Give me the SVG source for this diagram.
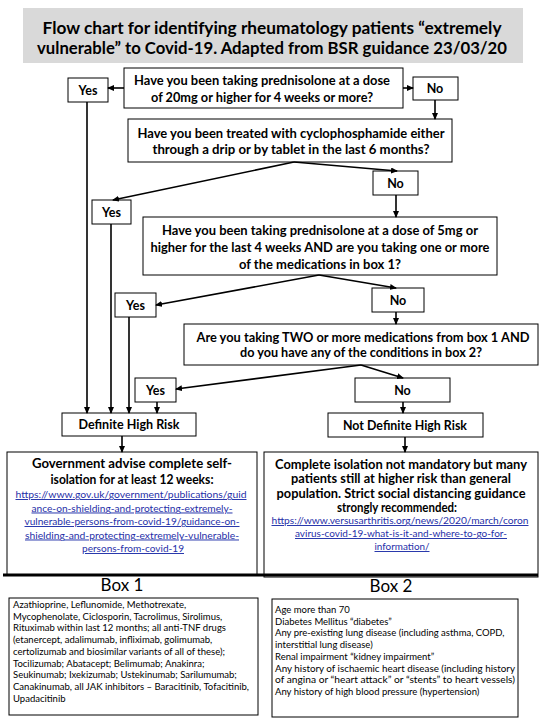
<svg xmlns="http://www.w3.org/2000/svg" width="540" height="720" viewBox="0 0 540 720">
<style>
  .box{fill:#fff;stroke:#000;stroke-width:1}
  .t{font-family:Lato,"Liberation Sans",sans-serif;fill:#000}
  .title{font-size:17px;font-weight:bold;text-anchor:middle}
  .q{font-size:12.5px;font-weight:bold;text-anchor:middle}
  .lab{font-size:12.5px;font-weight:bold;text-anchor:middle}
  .adv{font-size:12.8px;font-weight:bold;text-anchor:middle}
  .lnk{font-size:9.5px;fill:#1f2fa8;text-decoration:underline;text-anchor:middle}
  .lst{font-size:9.5px}
  .hd{font-size:17px;text-anchor:middle}
  .c{stroke:#000;stroke-width:1.6;fill:none;marker-end:url(#ah)}
</style>
<defs>
  <marker id="ah" markerUnits="userSpaceOnUse" markerWidth="7" markerHeight="6" refX="6" refY="3" orient="auto">
    <path d="M0,0 L7,3 L0,6 z" fill="#000"/>
  </marker>
</defs>
<rect width="540" height="720" fill="#fff"/>

<g id="title">
  <rect x="23" y="8" width="500" height="55" fill="#d9d9d9"/>
  <text class="t title" x="272" y="34" textLength="459" lengthAdjust="spacingAndGlyphs">Flow chart for identifying rheumatology patients “extremely</text>
  <text class="t title" x="272" y="54" textLength="470" lengthAdjust="spacingAndGlyphs">vulnerable” to Covid-19. Adapted from BSR guidance 23/03/20</text>
</g>

<g id="q1">
  <rect class="box" x="124" y="68" width="279" height="40"/>
  <text class="t q" x="262" y="85" textLength="256" lengthAdjust="spacingAndGlyphs">Have you been taking prednisolone at a dose</text>
  <text class="t q" x="262" y="102" textLength="222" lengthAdjust="spacingAndGlyphs">of 20mg or higher for 4 weeks or more?</text>
</g>
<g id="yes1">
  <rect class="box" x="68" y="78" width="40" height="24"/>
  <text class="t lab" x="88" y="95">Yes</text>
</g>
<g id="no1">
  <rect class="box" x="413" y="77" width="45" height="23"/>
  <text class="t lab" x="435" y="93">No</text>
</g>

<g id="q2">
  <rect class="box" x="128" y="119" width="324" height="43"/>
  <text class="t q" x="291" y="138" textLength="307" lengthAdjust="spacingAndGlyphs">Have you been treated with cyclophosphamide either</text>
  <text class="t q" x="291" y="154" textLength="277" lengthAdjust="spacingAndGlyphs">through a drip or by tablet in the last 6 months?</text>
</g>
<g id="yes2">
  <rect class="box" x="92" y="200" width="39" height="24"/>
  <text class="t lab" x="111.5" y="217">Yes</text>
</g>
<g id="no2">
  <rect class="box" x="373" y="171" width="45" height="24"/>
  <text class="t lab" x="395.5" y="188">No</text>
</g>

<g id="q3">
  <rect class="box" x="143" y="217" width="354" height="58"/>
  <text class="t q" x="320" y="235" textLength="316" lengthAdjust="spacingAndGlyphs">Have you been taking prednisolone at a dose of 5mg or</text>
  <text class="t q" x="320" y="252" textLength="339" lengthAdjust="spacingAndGlyphs">higher for the last 4 weeks AND are you taking one or more</text>
  <text class="t q" x="320" y="269" textLength="162" lengthAdjust="spacingAndGlyphs">of the medications in box 1?</text>
</g>
<g id="yes3">
  <rect class="box" x="115" y="293" width="41" height="24"/>
  <text class="t lab" x="135.5" y="310">Yes</text>
</g>
<g id="no3">
  <rect class="box" x="372" y="288" width="52" height="24"/>
  <text class="t lab" x="398" y="305">No</text>
</g>

<g id="q4">
  <rect class="box" x="184" y="324" width="354" height="41"/>
  <text class="t q" x="363" y="341.5" textLength="333" lengthAdjust="spacingAndGlyphs">Are you taking TWO or more medications from box 1 AND</text>
  <text class="t q" x="361" y="356.5" textLength="242" lengthAdjust="spacingAndGlyphs">do you have any of the conditions in box 2?</text>
</g>
<g id="yes4">
  <rect class="box" x="135" y="378" width="41" height="24"/>
  <text class="t lab" x="155.5" y="395">Yes</text>
</g>
<g id="no4">
  <rect class="box" x="355" y="378" width="95" height="24"/>
  <text class="t lab" x="402.5" y="395">No</text>
</g>

<g id="dhr">
  <rect class="box" x="62" y="413" width="134" height="23"/>
  <text class="t lab" x="129" y="429" textLength="101" lengthAdjust="spacingAndGlyphs">Definite High Risk</text>
</g>
<g id="ndhr">
  <rect class="box" x="328" y="413" width="155" height="24"/>
  <text class="t lab" x="405" y="430" textLength="124" lengthAdjust="spacingAndGlyphs">Not Definite High Risk</text>
</g>

<g id="gov">
  <rect class="box" x="7" y="452" width="250" height="123"/>
  <text class="t adv" x="132" y="468" textLength="200" lengthAdjust="spacingAndGlyphs">Government advise complete self-</text>
  <text class="t adv" x="132" y="484" textLength="163" lengthAdjust="spacingAndGlyphs">isolation for at least 12 weeks:</text>
  <text class="t lnk" x="131" y="498" textLength="231" lengthAdjust="spacingAndGlyphs">https://www.gov.uk/government/publications/guid</text>
  <text class="t lnk" x="132" y="511.5" textLength="201" lengthAdjust="spacingAndGlyphs">ance-on-shielding-and-protecting-extremely-</text>
  <text class="t lnk" x="132" y="525" textLength="215" lengthAdjust="spacingAndGlyphs">vulnerable-persons-from-covid-19/guidance-on-</text>
  <text class="t lnk" x="132" y="538.5" textLength="214" lengthAdjust="spacingAndGlyphs">shielding-and-protecting-extremely-vulnerable-</text>
  <text class="t lnk" x="133" y="552" textLength="102" lengthAdjust="spacingAndGlyphs">persons-from-covid-19</text>
</g>

<g id="iso">
  <rect class="box" x="264" y="452" width="274" height="125"/>
  <text class="t adv" x="401" y="468.5" textLength="252" lengthAdjust="spacingAndGlyphs">Complete isolation not mandatory but many</text>
  <text class="t adv" x="401" y="483" textLength="220" lengthAdjust="spacingAndGlyphs">patients still at higher risk than general</text>
  <text class="t adv" x="401" y="497.5" textLength="249" lengthAdjust="spacingAndGlyphs">population. Strict social distancing guidance</text>
  <text class="t adv" x="397" y="512" textLength="120" lengthAdjust="spacingAndGlyphs">strongly recommended:</text>
  <text class="t lnk" x="400" y="524" textLength="257" lengthAdjust="spacingAndGlyphs">https://www.versusarthritis.org/news/2020/march/coron</text>
  <text class="t lnk" x="401" y="537" textLength="212" lengthAdjust="spacingAndGlyphs">avirus-covid-19-what-is-it-and-where-to-go-for-</text>
  <text class="t lnk" x="402" y="550" textLength="55" lengthAdjust="spacingAndGlyphs">information/</text>
</g>

<line x1="3" y1="575" x2="538" y2="575" stroke="#000" stroke-width="3"/>

<g id="box1">
  <text class="t hd" x="122" y="591">Box 1</text>
  <rect class="box" x="9" y="598" width="249" height="117"/>
  <text class="t lst" x="13" y="608">Azathioprine, Leflunomide, Methotrexate,</text>
  <text class="t lst" x="13" y="619.7">Mycophenolate, Ciclosporin, Tacrolimus, Sirolimus,</text>
  <text class="t lst" x="13" y="631.4">Rituximab within last 12 months; all anti-TNF drugs</text>
  <text class="t lst" x="13" y="643.1">(etanercept, adalimumab, infliximab, golimumab,</text>
  <text class="t lst" x="13" y="654.8">certolizumab and biosimilar variants of all of these);</text>
  <text class="t lst" x="13" y="666.5">Tocilizumab; Abatacept; Belimumab; Anakinra;</text>
  <text class="t lst" x="13" y="678.2">Seukinumab; Ixekizumab; Ustekinumab; Sarilumumab;</text>
  <text class="t lst" x="13" y="689.9" textLength="236" lengthAdjust="spacingAndGlyphs">Canakinumab, all JAK inhibitors – Baracitinib, Tofacitinib,</text>
  <text class="t lst" x="13" y="701.6">Upadacitinib</text>
</g>

<g id="box2">
  <text class="t hd" x="391" y="592">Box 2</text>
  <rect class="box" x="272" y="599" width="246" height="118"/>
  <text class="t lst" x="275" y="613">Age more than 70</text>
  <text class="t lst" x="275" y="624.7">Diabetes Mellitus “diabetes”</text>
  <text class="t lst" x="275" y="636.4">Any pre-existing lung disease (including asthma, COPD,</text>
  <text class="t lst" x="275" y="648.1">interstitial lung disease)</text>
  <text class="t lst" x="275" y="659.8">Renal impairment “kidney impairment”</text>
  <text class="t lst" x="275" y="671.5" textLength="240" lengthAdjust="spacingAndGlyphs">Any history of ischaemic heart disease (including history</text>
  <text class="t lst" x="275" y="683.2" textLength="240" lengthAdjust="spacingAndGlyphs">of angina or “heart attack” or “stents” to heart vessels)</text>
  <text class="t lst" x="275" y="694.9">Any history of high blood pressure (hypertension)</text>
</g>

<g id="connectors">
  <line class="c" x1="124" y1="88" x2="108" y2="88"/>
  <line class="c" x1="403" y1="88" x2="413" y2="88"/>
  <line class="c" x1="435" y1="100" x2="435" y2="119"/>
  <line class="c" x1="87" y1="102" x2="87" y2="413"/>
  <line class="c" x1="294" y1="162" x2="113" y2="200"/>
  <line class="c" x1="294" y1="162" x2="397" y2="171"/>
  <line class="c" x1="396" y1="195" x2="396" y2="217"/>
  <line class="c" x1="111" y1="224" x2="111" y2="413"/>
  <line class="c" x1="319" y1="275" x2="156" y2="305"/>
  <line class="c" x1="319" y1="275" x2="396" y2="288"/>
  <line class="c" x1="396" y1="312" x2="396" y2="324"/>
  <line class="c" x1="129" y1="317" x2="129" y2="413"/>
  <line class="c" x1="361" y1="365" x2="176" y2="389"/>
  <line class="c" x1="361" y1="365" x2="403" y2="378"/>
  <line class="c" x1="157" y1="402" x2="157" y2="413"/>
  <line class="c" x1="403" y1="402" x2="403" y2="413"/>
  <line class="c" x1="122" y1="436" x2="122" y2="452"/>
  <line class="c" x1="405" y1="437" x2="405" y2="452"/>
</g>
</svg>
